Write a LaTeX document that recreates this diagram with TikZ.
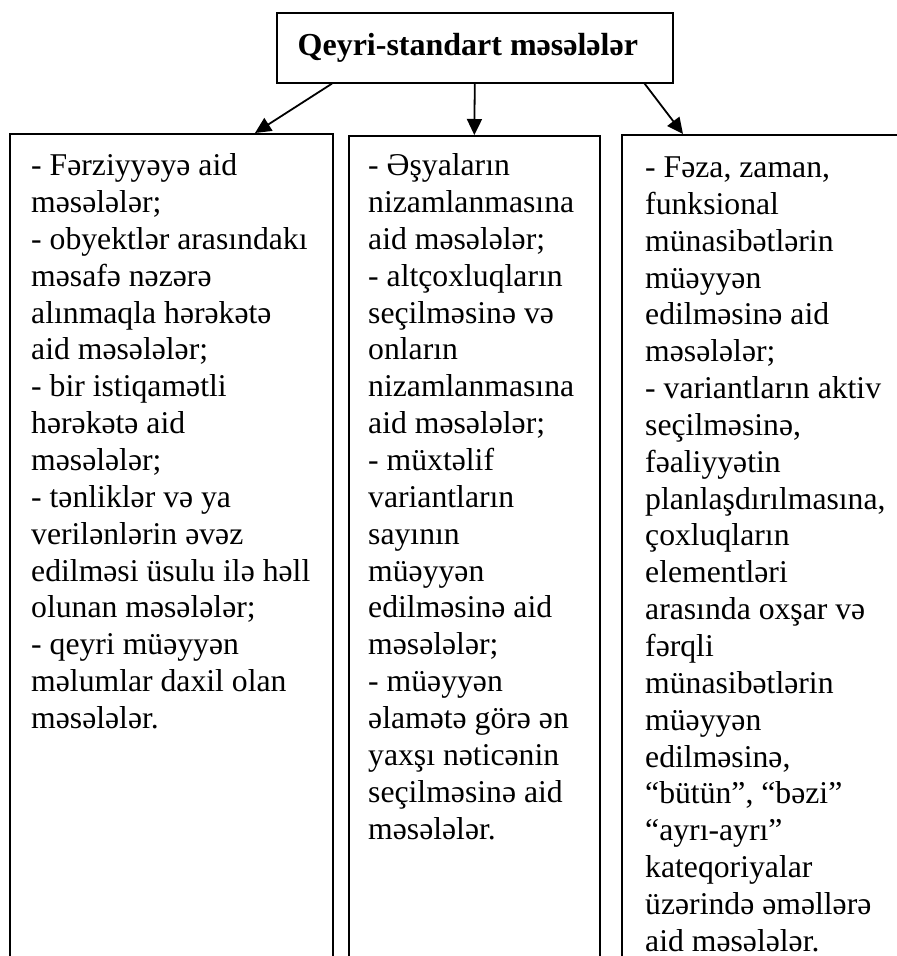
\documentclass[tikz,border=0pt]{standalone}
\usepackage{fontspec}
\setmainfont{Liberation Serif}
\usetikzlibrary{positioning,arrows.meta}

\begin{document}
\begin{tikzpicture}[
  x=1pt, y=-1pt,
  frame/.style={draw, line width=1.6pt, inner sep=0pt, anchor=north west},
  listtext/.style={inner sep=0pt, align=left, font=\fontsize{31.7}{36.85}\selectfont},
  arr/.style={line width=1.8pt, -{Triangle[length=16pt,width=15pt]}}
]
  \useasboundingbox (0,0) rectangle (897,956);
  \clip (0,0) rectangle (897,956);
  % top box and the three groups below it
  \node[frame, minimum width=396pt, minimum height=70pt, font=\fontsize{32}{36}\selectfont\bfseries]
    (title) at (276,12) {Qeyri-standart məsələlər\hspace*{14pt}};
  \node[frame, minimum width=323pt, minimum height=900pt] (lbox) at (9,133) {};
  \node[frame, minimum width=251pt, minimum height=900pt] (mbox) at (348,135) {};
  \node[frame, minimum width=290pt, minimum height=900pt] (rbox) at (621,134) {};

  \node[listtext, below right=20.5pt and 22pt of lbox.north west] (ltext) {%
    - Fərziyyəyə aid\\ məsələlər;\\ - obyektlər arasındakı\\ məsafə nəzərə\\
    alınmaqla hərəkətə\\ aid məsələlər;\\ - bir istiqamətli\\ hərəkətə aid\\
    məsələlər;\\ - tənliklər və ya\\ verilənlərin əvəz\\ edilməsi üsulu ilə həll\\
    olunan məsələlər;\\ - qeyri müəyyən\\ məlumlar daxil olan\\ məsələlər.};
  \node[listtext, below right=18.5pt and 20pt of mbox.north west] (mtext) {%
    - Əşyaların\\ nizamlanmasına\\ aid məsələlər;\\ - altçoxluqların\\
    seçilməsinə və\\ onların\\ nizamlanmasına\\ aid məsələlər;\\ - müxtəlif\\
    variantların\\ sayının\\ müəyyən\\ edilməsinə aid\\ məsələlər;\\ - müəyyən\\
    əlamətə görə ən\\ yaxşı nəticənin\\ seçilməsinə aid\\ məsələlər.};
  \node[listtext, below right=22.5pt and 24pt of rbox.north west] (rtext) {%
    - Fəza, zaman,\\ funksional\\ münasibətlərin\\ müəyyən\\ edilməsinə aid\\
    məsələlər;\\ - variantların aktiv\\ seçilməsinə,\\ fəaliyyətin\\
    planlaşdırılmasına,\\ çoxluqların\\ elementləri\\ arasında oxşar və\\
    fərqli\\ münasibətlərin\\ müəyyən\\ edilməsinə,\\ “bütün”, “bəzi”\\
    “ayrı-ayrı”\\ kateqoriyalar\\ üzərində əməllərə\\ aid məsələlər.};

  \draw[arr] ([xshift=56pt]title.south west) -- ([xshift=246pt]lbox.north west);
  \draw[arr] (title.south) -- (mbox.north);
  \draw[arr] ([xshift=-29pt]title.south east) -- ([xshift=62pt]rbox.north west);
\end{tikzpicture}
\end{document}
